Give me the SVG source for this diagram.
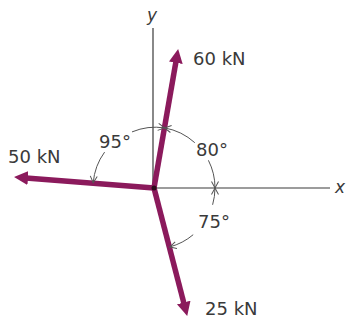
<svg xmlns="http://www.w3.org/2000/svg" width="346" height="325" viewBox="0 0 346 325">
<style>
.ax{stroke:#3a3a3a;stroke-width:1.2;fill:none}
.force{stroke:#8b1a5c;stroke-width:5.5;fill:none;marker-end:url(#head)}
.arc{stroke:#555;stroke-width:1;fill:none}
.lbl{font-family:"DejaVu Sans","Open Sans",sans-serif;font-size:18px;fill:#3a3a3a}
.axl{font-family:"DejaVu Sans","Open Sans",sans-serif;font-size:17px;font-style:italic;fill:#3a3a3a}
</style>
<defs>
<marker id="head" markerUnits="userSpaceOnUse" markerWidth="14" markerHeight="14" viewBox="0 0 14 14" refX="2" refY="7" orient="auto">
<path d="M0,0 L14,7 L0,14 Z" fill="#8b1a5c"/>
</marker>
<marker id="open" markerUnits="userSpaceOnUse" markerWidth="9" markerHeight="9" viewBox="0 0 9 9" refX="7" refY="4.5" orient="auto-start-reverse">
<path d="M0.5,1 L7,4.5 L0.5,8" fill="none" stroke="#555" stroke-width="1"/>
</marker>
</defs>
<rect width="346" height="325" fill="#fff"/>
<g id="axes">
<line class="ax" x1="153" y1="28" x2="153" y2="188"/>
<line class="ax" x1="153" y1="188" x2="330" y2="188"/>
<text class="axl" x="147" y="21">y</text>
<text class="axl" x="335" y="193">x</text>
</g>
<g id="connectors">
<line id="f60" class="force" x1="154" y1="188" x2="176.1" y2="60.8"/>
<line id="f50" class="force" x1="154" y1="188" x2="26" y2="177.9"/>
<line id="f25" class="force" x1="154" y1="188" x2="184.2" y2="304.4"/>
<circle cx="154" cy="188" r="2.5" fill="#2a0a1a"/>
<path class="arc" d="M164.6,127.9 A61,61 0 0 1 194.8,142.7" marker-start="url(#open)"/>
<path class="arc" d="M208.4,160.3 A61,61 0 0 1 215,188" marker-end="url(#open)"/>
<path class="arc" d="M215,188 A61,61 0 0 1 212.6,204.8" marker-start="url(#open)"/>
<path class="arc" d="M193.2,234.7 A61,61 0 0 1 169.8,246.9" marker-end="url(#open)"/>
<path class="arc" d="M132,131.9 A61,61 0 0 1 164.6,127.9" marker-end="url(#open)"/>
<path class="arc" d="M104.6,152.1 A61,61 0 0 0 93.2,182.7" marker-end="url(#open)"/>
</g>
<g id="labels">
<text class="lbl" x="193" y="65">60 kN</text>
<text class="lbl" x="8" y="163">50 kN</text>
<text class="lbl" x="205" y="315">25 kN</text>
<text class="lbl" x="99" y="148">95°</text>
<text class="lbl" x="196" y="156">80°</text>
<text class="lbl" x="198" y="228">75°</text>
</g>
</svg>
